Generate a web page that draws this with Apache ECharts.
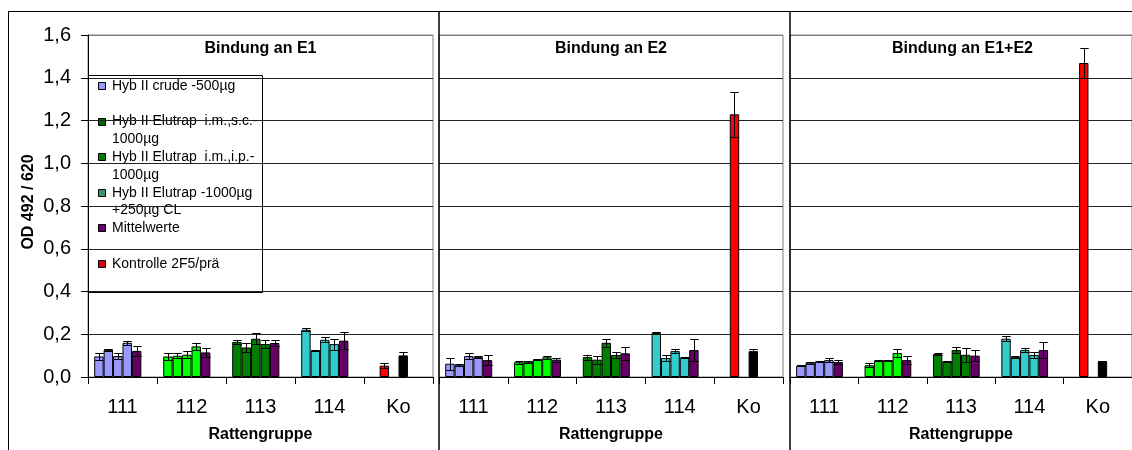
<!DOCTYPE html>
<html>
<head>
<meta charset="utf-8">
<script src="https://cdn.jsdelivr.net/npm/echarts@6/dist/echarts.min.js"></script>
<style>
  html, body { margin: 0; padding: 0; background: #fff; }
  #chart { width: 1132px; height: 450px; }
</style>
</head>
<body>
<div id="chart"></div>
<script>
// Rat groups on the x axis of every panel
const categories = ['111', '112', '113', '114', 'Ko'];
const panelTitles = ['Bindung an E1', 'Bindung an E2', 'Bindung an E1+E2'];
const xAxisTitle = 'Rattengruppe';
const yAxisTitle = 'OD 492 / 620';

// OD values: one row per rat group, columns = bar slots
// (four single rats, the group mean, spare slot). Ko row: control (slot 2) and pre-serum (slot 4).
const odE1 = [
  [0.096, 0.127, 0.098, 0.160, 0.122, null],
  [0.096, 0.099, 0.104, 0.143, 0.115, null],
  [0.164, 0.138, 0.179, 0.154, 0.159, null],
  [0.221, 0.123, 0.174, 0.154, 0.170, null],
  [null, 0.053, null, 0.101, null, null]
];
const sdE1 = [
  [0.016, 0.005, 0.015, 0.010, 0.025, null],
  [0.016, 0.012, 0.016, 0.016, 0.020, null],
  [0.011, 0.020, 0.026, 0.020, 0.016, null],
  [0.006, 0.003, 0.011, 0.026, 0.040, null],
  [null, 0.012, null, 0.016, null, null]
];
const odE2 = [
  [0.062, 0.058, 0.098, 0.093, 0.079, null],
  [0.069, 0.072, 0.081, 0.092, 0.081, null],
  [0.093, 0.081, 0.160, 0.103, 0.111, null],
  [0.206, 0.089, 0.121, 0.092, 0.126, null],
  [null, 1.229, null, 0.121, null, null]
];
const sdE2 = [
  [0.027, 0.005, 0.014, 0.003, 0.022, null],
  [0.008, 0.005, 0.003, 0.006, 0.009, null],
  [0.012, 0.019, 0.020, 0.012, 0.031, null],
  [0.003, 0.014, 0.009, 0.003, 0.053, null],
  [null, 0.104, null, 0.008, null, null]
];
const odE1E2 = [
  [0.053, 0.067, 0.073, 0.079, 0.070, null],
  [0.055, 0.078, 0.078, 0.112, 0.079, null],
  [0.107, 0.073, 0.126, 0.104, 0.100, null],
  [0.179, 0.093, 0.126, 0.103, 0.126, null],
  [null, 1.469, null, 0.073, null, null]
];
const sdE1E2 = [
  [0.003, 0.005, 0.003, 0.011, 0.010, null],
  [0.009, 0.003, 0.003, 0.019, 0.020, null],
  [0.005, 0.003, 0.016, 0.033, 0.026, null],
  [0.011, 0.003, 0.009, 0.012, 0.037, null],
  [null, 0.070, null, 0.003, null, null]
];

// Legend entries (text lines) and their swatch colours
const legendLabels = [
  'Hyb II crude -500µg',
  'Hyb II Elutrap  i.m.,s.c.-\n1000µg',
  'Hyb II Elutrap  i.m.,i.p.-\n1000µg',
  'Hyb II Elutrap -1000µg\n+250µg CL',
  'Mittelwerte',
  'Kontrolle 2F5/prä'
];
const legendLine = [0, 2, 4, 6, 8, 10];
const legendColors = ['#9999FF', '#006600', '#007A00', '#339966', '#660066', '#DD0000'];

// Bar colours
const groupColors = ['#9999FF', '#00FF00', '#008000', '#33CCCC'];
const meanColor = '#660066';
const koColors = { 1: '#FF0000', 3: '#000000' };

const panels = [
  { od: odE1, sd: sdE1 },
  { od: odE2, sd: sdE2 },
  { od: odE1E2, sd: sdE1E2 }
];

const FONT = "'Liberation Sans', Arial, sans-serif";
const SLOTS = 6;
const CAT_GAP = 0.18;

const gridBoxes = [
  { left: 88, width: 345 },
  { left: 439, width: 344 },
  { left: 790, width: 345 }
];
const gridTop = 35, gridHeight = 342;

function barColor(ci, slot) {
  if (ci === 4) return koColors[slot];
  return slot === 4 ? meanColor : groupColors[ci];
}

function renderErr(params, api) {
  const ci = api.value(0), slot = api.value(1), v = api.value(2), e = api.value(3);
  const band = api.size([1, 0])[0];
  const groupW = band * (1 - CAT_GAP);
  const barW = groupW / SLOTS;
  const x = Math.round(api.coord([ci, 0])[0] - groupW / 2 + (slot + 0.5) * barW) + 0.5;
  const yHi = Math.round(api.coord([ci, v + e])[1]) + 0.5;
  const yLo = Math.round(api.coord([ci, v - e])[1]) + 0.5;
  const hw = barW * 0.45;
  const st = { stroke: '#000', lineWidth: 1 };
  return {
    type: 'group',
    children: [
      { type: 'line', shape: { x1: x, y1: yHi, x2: x, y2: yLo }, style: st },
      { type: 'line', shape: { x1: x - hw, y1: yHi, x2: x + hw, y2: yHi }, style: st },
      { type: 'line', shape: { x1: x - hw, y1: yLo, x2: x + hw, y2: yLo }, style: st }
    ]
  };
}

const grid = [], xAxis = [], yAxis = [], series = [];
const splitColors = ['#222', '#222', '#222', '#222', '#222', '#222', '#222', '#222', '#808080'];

panels.forEach((p, gi) => {
  grid.push({
    left: gridBoxes[gi].left, top: gridTop, width: gridBoxes[gi].width, height: gridHeight,
    show: true, borderColor: '#808080', borderWidth: 1, backgroundColor: 'transparent'
  });
  xAxis.push({
    type: 'category', gridIndex: gi, data: categories,
    axisLine: { show: true, lineStyle: { color: '#000', width: 1 } },
    axisTick: { show: true, length: 7, lineStyle: { color: '#000' } },
    axisLabel: { color: '#000', fontSize: 20, fontFamily: FONT, margin: 20 },
    name: xAxisTitle, nameLocation: 'middle', nameGap: 50,
    nameTextStyle: { color: '#000', fontSize: 16, fontWeight: 'bold', fontFamily: FONT }
  });
  yAxis.push({
    type: 'value', gridIndex: gi, min: 0, max: 1.6, interval: 0.2,
    axisLine: { show: gi === 0, lineStyle: { color: '#000', width: 1 } },
    axisTick: { show: gi === 0, length: 7, lineStyle: { color: '#000' } },
    axisLabel: {
      show: gi === 0, color: '#000', fontSize: 20, fontFamily: FONT, margin: 17,
      formatter: v => v.toFixed(1).replace('.', ',')
    },
    splitLine: { show: true, lineStyle: { color: splitColors, width: 1 } }
  });
  for (let s = 0; s < SLOTS; s++) {
    series.push({
      type: 'bar', xAxisIndex: gi, yAxisIndex: gi,
      barGap: '0%', barCategoryGap: (CAT_GAP * 100) + '%',
      itemStyle: { borderColor: '#000', borderWidth: 1 },
      emphasis: { disabled: true },
      animation: false,
      data: p.od.map((row, ci) => row[s] == null ? '-' :
        { value: row[s], itemStyle: { color: barColor(ci, s), borderColor: '#000', borderWidth: 1 } })
    });
  }
  const errData = [];
  p.od.forEach((row, ci) => row.forEach((v, s) => {
    if (v != null && p.sd[ci][s] != null) errData.push([ci, s, v, p.sd[ci][s]]);
  }));
  series.push({
    type: 'custom', xAxisIndex: gi, yAxisIndex: gi, z: 5,
    renderItem: renderErr, encode: { x: 0, y: 2 }, data: errData, animation: false
  });
});

// Frame, panel separators, titles, axis title and legend
const graphic = [];
const frameStyle = { stroke: '#000', lineWidth: 1 };
graphic.push({ type: 'line', z: 50, shape: { x1: 8, y1: 11.5, x2: 1132, y2: 11.5 }, style: frameStyle });
graphic.push({ type: 'line', z: 50, shape: { x1: 8.5, y1: 11, x2: 8.5, y2: 450 }, style: frameStyle });
[439, 790].forEach(x => graphic.push({
  type: 'line', z: 50, shape: { x1: x, y1: 11, x2: x, y2: 450 }, style: { stroke: '#000', lineWidth: 1.5 }
}));
panelTitles.forEach((t, gi) => graphic.push({
  type: 'text', z: 50, x: gridBoxes[gi].left + gridBoxes[gi].width / 2, y: 49,
  style: { text: t, fill: '#000', font: 'bold 16px ' + FONT, textAlign: 'center', textVerticalAlign: 'middle' }
}));
graphic.push({
  type: 'text', z: 50, x: 29, y: 202, rotation: Math.PI / 2,
  style: { text: yAxisTitle, fill: '#000', font: 'bold 16px ' + FONT, textAlign: 'center', textVerticalAlign: 'middle' }
});

const legendChildren = [
  { type: 'rect', shape: { x: 88.5, y: 75.5, width: 174, height: 217 }, style: { fill: '#fff', stroke: '#000', lineWidth: 1 } }
];
const lineH = 17.8, firstY = 86;
legendLabels.forEach((lab, i) => {
  const cy = firstY + legendLine[i] * lineH;
  legendChildren.push({
    type: 'rect', shape: { x: 98.5, y: Math.round(cy - 4) + 0.5, width: 7, height: 7 },
    style: { fill: legendColors[i], stroke: '#000', lineWidth: 1 }
  });
  legendChildren.push({
    type: 'text', x: 112, y: cy - lineH / 2,
    style: { text: lab, fill: '#000', font: '14px ' + FONT, lineHeight: lineH, textVerticalAlign: 'top' }
  });
});
graphic.push({ type: 'group', z: 60, children: legendChildren });

const chart = echarts.init(document.getElementById('chart'), null, { renderer: 'canvas' });
chart.setOption({
  animation: false,
  backgroundColor: '#fff',
  grid, xAxis, yAxis, series, graphic
});
</script>
</body>
</html>
